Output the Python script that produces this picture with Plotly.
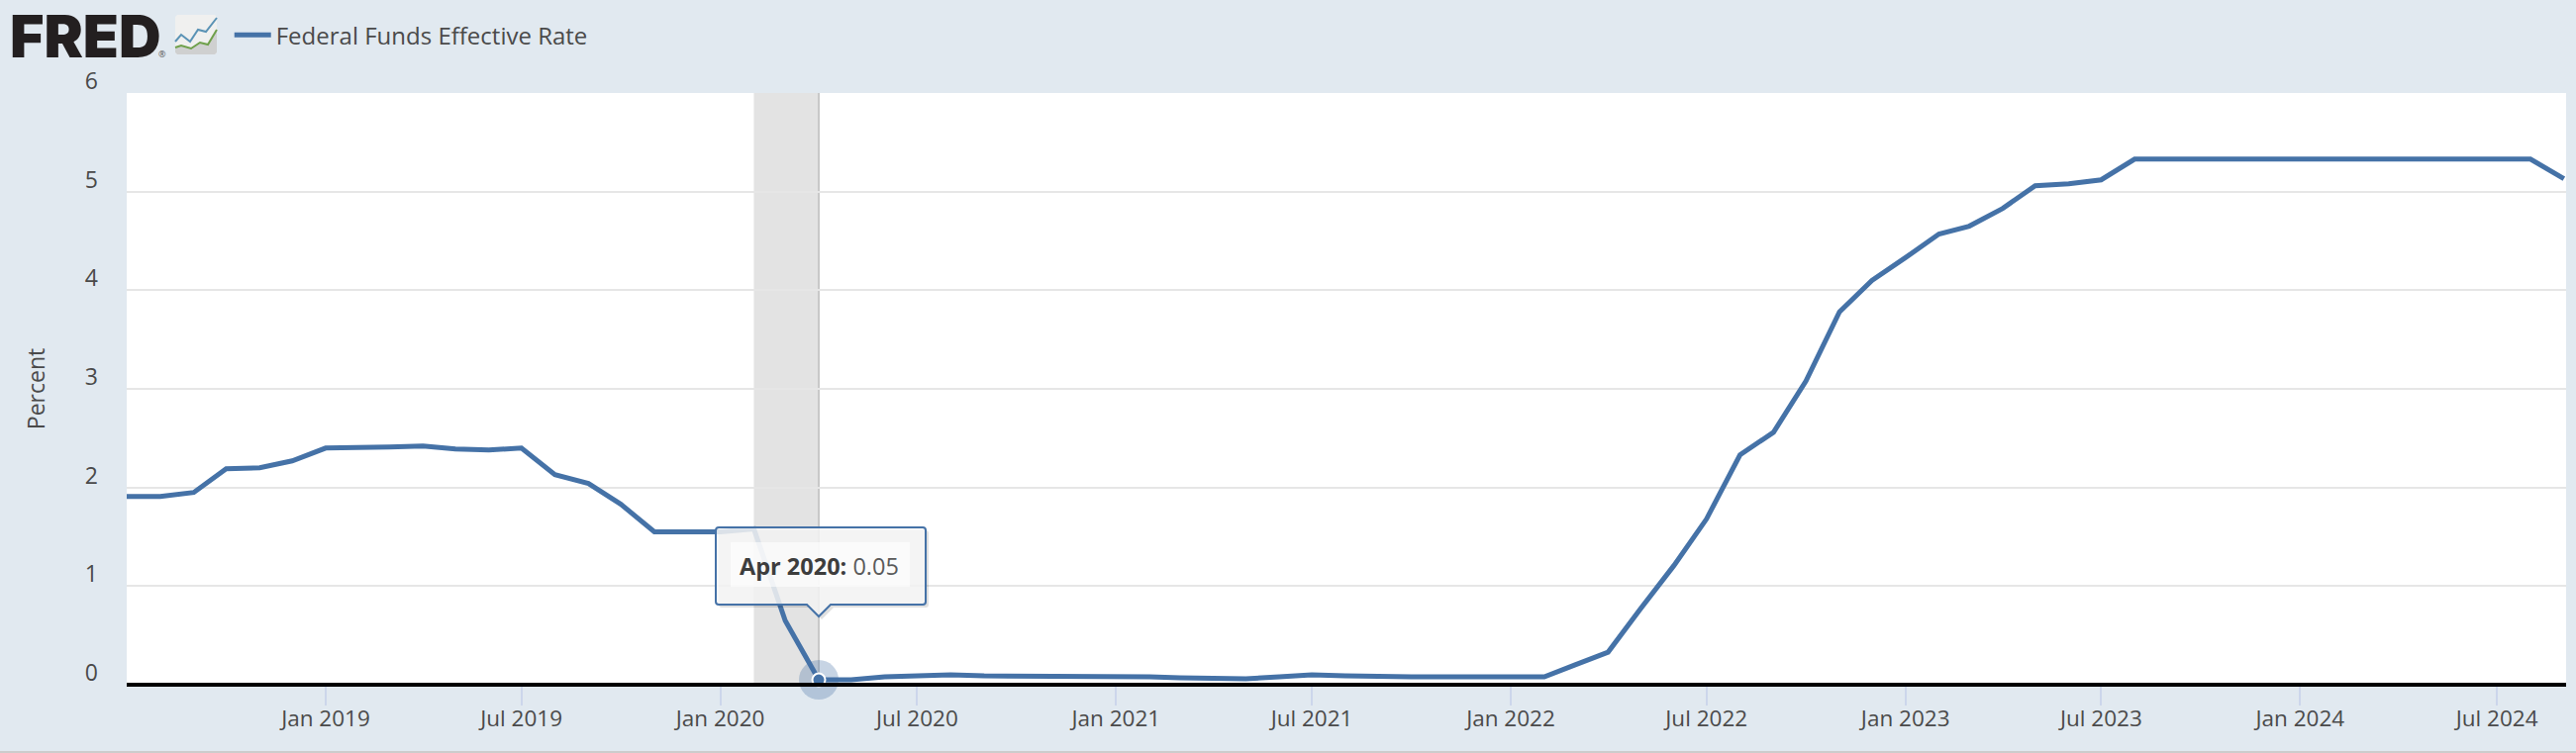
import plotly.graph_objects as go

months = ["2018-07","2018-08","2018-09","2018-10","2018-11","2018-12",
 "2019-01","2019-02","2019-03","2019-04","2019-05","2019-06","2019-07","2019-08","2019-09","2019-10","2019-11","2019-12",
 "2020-01","2020-02","2020-03","2020-04","2020-05","2020-06","2020-07","2020-08","2020-09","2020-10","2020-11","2020-12",
 "2021-01","2021-02","2021-03","2021-04","2021-05","2021-06","2021-07","2021-08","2021-09","2021-10","2021-11","2021-12",
 "2022-01","2022-02","2022-03","2022-04","2022-05","2022-06","2022-07","2022-08","2022-09","2022-10","2022-11","2022-12",
 "2023-01","2023-02","2023-03","2023-04","2023-05","2023-06","2023-07","2023-08","2023-09","2023-10","2023-11","2023-12",
 "2024-01","2024-02","2024-03","2024-04","2024-05","2024-06","2024-07","2024-08","2024-09"]
rates = [1.91,1.91,1.95,2.19,2.20,2.27,
 2.40,2.40,2.41,2.42,2.39,2.38,2.40,2.13,2.04,1.83,1.55,1.55,
 1.55,1.58,0.65,0.05,0.05,0.08,0.09,0.10,0.09,0.09,0.09,0.09,
 0.09,0.08,0.07,0.07,0.06,0.08,0.10,0.09,0.08,0.08,0.08,0.08,
 0.08,0.08,0.20,0.33,0.77,1.21,1.68,2.33,2.56,3.08,3.78,4.10,
 4.33,4.57,4.65,4.83,5.06,5.08,5.12,5.33,5.33,5.33,5.33,5.33,
 5.33,5.33,5.33,5.33,5.33,5.33,5.33,5.33,5.13]
x_tick_dates = ["2019-01","2019-07","2020-01","2020-07","2021-01","2021-07","2022-01","2022-07","2023-01","2023-07","2024-01","2024-07"]
x_tick_text = ["Jan 2019","Jul 2019","Jan 2020","Jul 2020","Jan 2021","Jul 2021","Jan 2022","Jul 2022","Jan 2023","Jul 2023","Jan 2024","Jul 2024"]
y_ticks = [0,1,2,3,4,5,6]
series_name = "Federal Funds Effective Rate"
recession = ["2020-02","2020-04"]
hover_month = "2020-04"
hover_value = 0.05
hover_text = "<b>Apr 2020:</b> <span style='color:#5a5a5a'>0.05</span>"

BG="#E1E9F0"; BLUE="#4572A7"; TXT="#4a4a4a"; FONT="Open Sans"

fig = go.Figure()
fig.add_trace(go.Scatter(x=months,y=rates,mode="lines",name=series_name,
    line=dict(color=BLUE,width=5),showlegend=True,cliponaxis=True))
fig.add_trace(go.Scatter(x=[hover_month],y=[hover_value],mode="markers",showlegend=False,cliponaxis=False,
    marker=dict(size=40,color="rgba(69,114,167,0.30)")))
fig.add_trace(go.Scatter(x=[hover_month],y=[hover_value],mode="markers",showlegend=False,cliponaxis=False,
    marker=dict(size=13,color=BLUE,line=dict(color="white",width=2))))

shapes=[]
shapes.append(dict(type="rect",xref="x",yref="paper",x0=recession[0],x1=recession[1],y0=0,y1=1,
    fillcolor="#E3E3E3",line_width=0,layer="below"))
shapes.append(dict(type="line",xref="x",yref="paper",x0=hover_month,x1=hover_month,y0=0,y1=1,
    line=dict(color="#C8C8C8",width=2),layer="below"))
shapes.append(dict(type="line",xref="paper",yref="paper",x0=0,x1=1,y0=0,y1=0,line=dict(color="black",width=4)))
# page bottom rule
shapes.append(dict(type="line",xref="paper",yref="paper",x0=-0.06,x1=1.01,y0=-0.1137,y1=-0.1137,
    line=dict(color="#CCCCCC",width=2)))

# tooltip, in pixels relative to the hovered point
def callout(dx=0,dy=0):
    L,R,T,B=-104+dx,108+dx,154+dy,76+dy
    tip=64+dy
    r=3
    return (f"M{L+r},{T} L{R-r},{T} Q{R},{T} {R},{T-r} L{R},{B+r} Q{R},{B} {R-r},{B} "
            f"L{12+dx},{B} L{dx},{tip} L{-12+dx},{B} L{L+r},{B} Q{L},{B} {L},{B+r} L{L},{T-r} Q{L},{T} {L+r},{T} Z")
anch=dict(type="path",xsizemode="pixel",ysizemode="pixel",xref="x",yref="y",xanchor=hover_month,yanchor=hover_value)
shapes.append(dict(anch,path=callout(3,-3),fillcolor="rgba(0,0,0,0.12)",line_width=0))
shapes.append(dict(anch,path=callout(),fillcolor="rgba(247,247,247,0.85)",line=dict(color=BLUE,width=2)))
shapes.append(dict(anch,path="M-89,139 L92,139 L92,94 L-89,94 Z",fillcolor="rgba(255,255,255,0.6)",line_width=0))

# logo icon (decorative), pixels from top-left of the page
OFFX=-128; OFFY=94
def P(pts,close=False):
    s=" ".join(("M" if i==0 else "L")+f"{x+OFFX},{OFFY-y}" for i,(x,y) in enumerate(pts))
    return s+(" Z" if close else "")
def page(path,**k):
    return dict(type="path",xsizemode="pixel",ysizemode="pixel",xref="paper",yref="paper",
                xanchor=0,yanchor=1,path=path,**k)
shapes.append(page(P([(177,17),(179,15),(217,15),(219,17),(219,53),(217,55),(179,55),(177,53)],True),
    fillcolor="#F0F0EF",line_width=0))
shapes.append(page(P([(177,48),(183,46),(193,49),(202,43),(210,45),(219,30),(219,53),(217,55),(179,55),(177,53)],True),
    fillcolor="#CFD0D0",line_width=0))
shapes.append(page(P([(177,42),(183,35),(192,42),(200,30),(208,32),(219,18)]),
    fillcolor="rgba(0,0,0,0)",line=dict(color="#5B93B5",width=2)))
shapes.append(page(P([(177,48),(183,46),(193,49),(202,43),(210,45),(219,30)]),
    fillcolor="rgba(0,0,0,0)",line=dict(color="#6FA04B",width=2)))

fig.update_layout(
    width=2602,height=761,paper_bgcolor=BG,plot_bgcolor="white",
    margin=dict(l=128,r=10,t=94,b=69,autoexpand=False),
    font=dict(family=FONT,color=TXT,size=22),
    showlegend=True,
    legend=dict(x=0.0421,y=1.0975,xanchor="left",yanchor="middle",bgcolor="rgba(0,0,0,0)",
        font=dict(size=24,color=TXT),itemwidth=37,itemclick=False,traceorder="normal"),
    xaxis=dict(type="date",range=["2018-07-01","2024-09-03"],tickmode="array",tickvals=x_tick_dates,ticktext=x_tick_text,
        ticks="outside",ticklen=20,tickwidth=2,tickcolor="#CCD6EB",showgrid=False,zeroline=False,showline=False,
        ticklabelstandoff=-6,tickfont=dict(size=22.5,color=TXT)),
    yaxis=dict(range=[0,6],tickmode="array",tickvals=y_ticks,ticks="",showgrid=True,gridcolor="#E6E6E6",gridwidth=2,
        zeroline=False,showline=False,ticklabelstandoff=28,ticklabelshift=-12,tickfont=dict(size=23,color=TXT),
        title=dict(text="Percent",font=dict(size=23,color=TXT),standoff=33)),
    shapes=shapes,
    annotations=[
        dict(xref="x",yref="y",x=hover_month,y=hover_value,ax=0,ay=-115,axref="pixel",ayref="pixel",
             text=hover_text,showarrow=True,arrowcolor="rgba(0,0,0,0)",arrowwidth=0.1,arrowhead=0,
             font=dict(size=23.5,color="#3d3d3d",family=FONT),xanchor="center",yanchor="middle"),
    ],
)
fig.add_annotation(xref="paper",yref="paper",x=-0.0488,y=1.0968,xanchor="left",yanchor="middle",showarrow=False,
    text="FRED",height=44,font=dict(family="Inter",size=59,color="#231F20",weight=900))
fig.add_annotation(xref="paper",yref="paper",x=0.0145,y=1.0665,xanchor="center",yanchor="middle",showarrow=False,
    text="®",font=dict(family=FONT,size=9,color="#555555"))
fig.write_html("out.html",config=dict(displayModeBar=False),
    post_script="document.body.style.margin='0';document.documentElement.style.overflow='hidden';")
